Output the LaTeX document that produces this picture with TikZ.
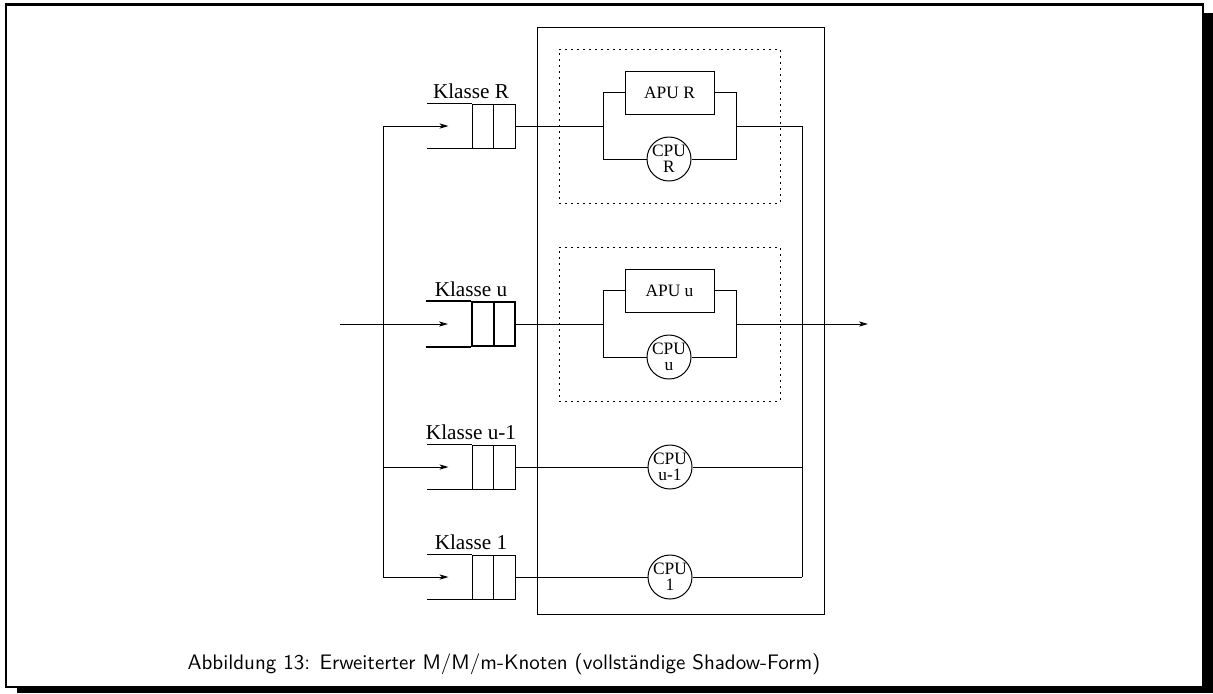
\documentclass[tikz,border=0pt]{standalone}
\usepackage{fontspec}
\setmainfont{Liberation Serif}
\usetikzlibrary{positioning, arrows.meta}

\begin{document}
\begin{tikzpicture}[
        x=0.5pt, y=-0.5pt,
        line width=0.5pt,
        >={Stealth[length=4.5pt, width=2.6pt, inset=1.2pt]},
        queue/.style={draw, minimum width=21.5pt, minimum height=22pt, inner sep=0pt,
            path picture={\draw (path picture bounding box.north) -- (path picture bounding box.south);}},
        cpu/.style={draw, circle, minimum size=22pt, inner sep=0pt, align=center, font=\fontsize{8.7}{8}\selectfont},
        apu/.style={draw, minimum width=44.5pt, minimum height=21.5pt, inner sep=0pt, font=\fontsize{8.7}{10}\selectfont},
        klasse/.style={inner sep=0pt, font=\fontsize{10.6}{12}\selectfont},
        group/.style={draw, dash pattern=on 1pt off 2pt, minimum width=110.5pt, minimum height=77pt}
    ]

    \useasboundingbox (0,0) rectangle (1213,693);

    % frame with shadow
    \draw[line width=1.3pt] (6,4.5) rectangle (1203,687);
    \fill (17,688) rectangle (1213,693);
    \fill (1204,13) rectangle (1213,693);

    % node
    \node[draw, minimum width=143.5pt, minimum height=293.5pt] (station) at (680.5,320.5) {};
    \node[group] (gR) at (669.5,126) {};
    \node[group] (gU) at (669.5,324) {};

    % queues
    \node[queue] (qR) at (493.5,126) {};
    \node[queue, line width=1pt] (qU) at (493.5,324) {};
    \node[queue] (qU1) at (493.5,467) {};
    \node[queue] (q1) at (493.5,577) {};
    \draw (qR.north west) -- ++(-45,0);
    \draw (qR.south west) -- ++(-45,0);
    \draw[line width=1pt] (qU.north west) -- ++(-45,0);
    \draw[line width=1pt] (qU.south west) -- ++(-45,0);
    \draw (qU1.north west) -- ++(-45,0);
    \draw (qU1.south west) -- ++(-45,0);
    \draw (q1.north west) -- ++(-45,0);
    \draw (q1.south west) -- ++(-45,0);

    \node[klasse, above=2pt of qR.north, xshift=-11.25pt] (kR) {Klasse R};
    \node[klasse, above=2pt of qU.north, xshift=-11.25pt] (kU) {Klasse u};
    \node[klasse, above=2pt of qU1.north, xshift=-11.25pt] (kU1) {Klasse u-1};
    \node[klasse, above=2pt of q1.north, xshift=-11.25pt] (k1) {Klasse 1};

    % servers
    \node[apu] (apuR) at (669.5,92.5) {APU R};
    \node[cpu] (cpuR) at (669,159) {CPU\\R};
    \node[apu] (apuU) at (669.5,290.5) {APU u};
    \node[cpu] (cpuU) at (669,357) {CPU\\u};
    \node[cpu] (cpuU1) at (670,467) {CPU\\u-1};
    \node[cpu] (cpu1) at (670,577) {CPU\\1};

    % split and join points
    \coordinate (sR) at (603,126);
    \coordinate (jR) at (736,126);
    \coordinate (sU) at (603,324);
    \coordinate (jU) at (736,324);
    \coordinate (bR) at (383,126);
    \coordinate (b1) at (383,577);
    \coordinate (oR) at (802,126);
    \coordinate (o1) at (802,577);
    \coordinate (inU) at (340,324);
    \coordinate (outU) at (868,324);

    \draw (qR.east) -- (sR) |- (apuR.west);
    \draw (sR) |- (cpuR.west);
    \draw (apuR.east) -| (jR);
    \draw (cpuR.east) -| (jR) -- (oR);

    \draw (qU.east) -- (sU) |- (apuU.west);
    \draw (sU) |- (cpuU.west);
    \draw (apuU.east) -| (jU);
    \draw (cpuU.east) -| (jU);

    \draw (qU1.east) -- (cpuU1) -- (cpuU1 -| oR);
    \draw (q1.east) -- (cpu1) -- (o1);

    % in and out
    \draw (bR) -- (b1);
    \draw (oR) -- (o1);
    \draw[->] (bR) -- ([xshift=-11.5pt]qR.west);
    \draw[->] (bR |- qU1) -- ([xshift=-11.5pt]qU1.west);
    \draw[->] (b1) -- ([xshift=-11.5pt]q1.west);
    \draw[->] (inU) -- ([xshift=-11.5pt]qU.west);
    \draw[->] (jU) -- (outU);

    \node[font=\sffamily\fontsize{10.5}{12}\selectfont] (caption) at (504,664) {Abbildung 13: Erweiterter M/M/m-Knoten (vollständige Shadow-Form)};

\end{tikzpicture}
\end{document}
